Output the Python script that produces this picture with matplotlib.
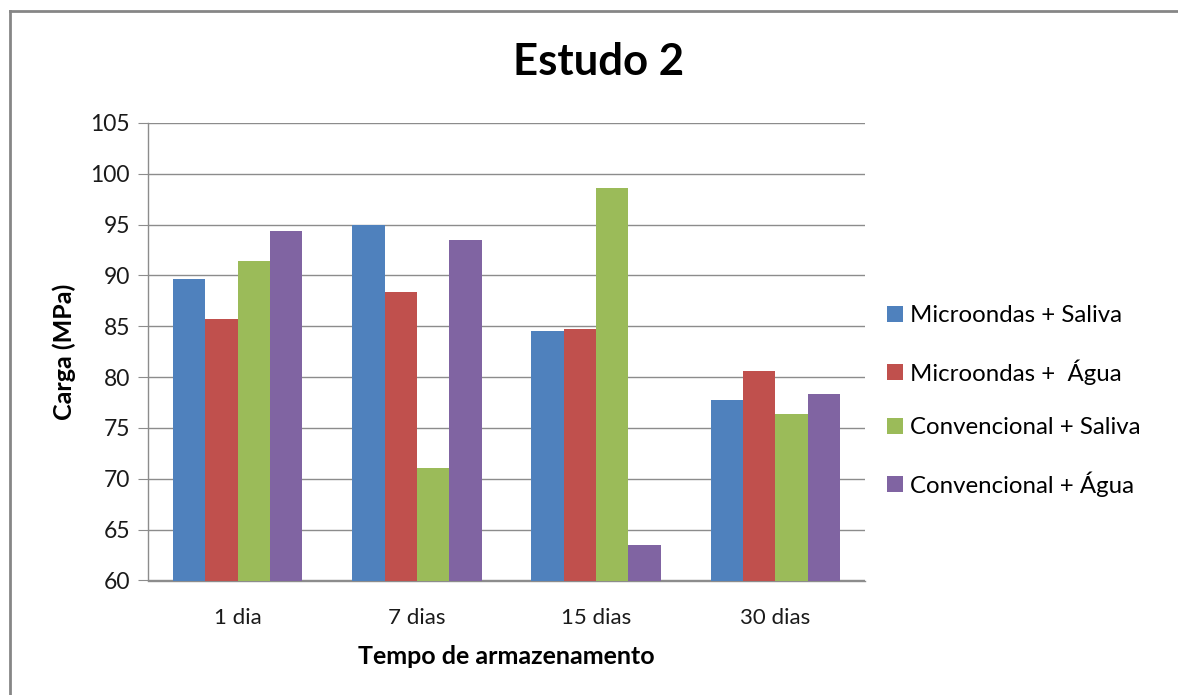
import matplotlib
matplotlib.use("Agg")
import matplotlib.pyplot as plt
from matplotlib.patches import Patch
from matplotlib.lines import Line2D
import numpy as np

plt.rcParams['font.family'] = ['Lato', 'DejaVu Sans']

categories = ["1 dia", "7 dias", "15 dias", "30 dias"]
series_names = ["Microondas + Saliva", "Microondas +  Água",
                "Convencional + Saliva", "Convencional + Água"]
micro_saliva = [89.7, 95.0, 84.5, 77.8]
micro_agua = [85.7, 88.4, 84.7, 80.6]
conv_saliva = [91.4, 71.1, 98.6, 76.4]
conv_agua = [94.4, 93.5, 63.5, 78.3]
y_ticks = [60, 65, 70, 75, 80, 85, 90, 95, 100, 105]

series = [micro_saliva, micro_agua, conv_saliva, conv_agua]
colors = ["#4F81BD", "#C0504D", "#9BBB59", "#8064A2"]

W, H, DPI = 1178, 695, 100
fig = plt.figure(figsize=(W / DPI, H / DPI), dpi=DPI)

# chart frame: top and left edges
frame_kw = dict(transform=None, color="#868686", linewidth=2.0)
fig.lines.append(Line2D([9.5, W + 5], [H - 10.5, H - 10.5], **frame_kw))
fig.lines.append(Line2D([9.5, 9.5], [-5, H - 10.5], **frame_kw))

ax = fig.add_axes([148 / W, 1 - 580.5 / H, (865 - 148) / W, (580.5 - 123) / H])

x = np.arange(len(categories))
bw = 0.1805
for i, (vals, col, name) in enumerate(zip(series, colors, series_names)):
    ax.bar(x + (i - 1.5) * bw, np.array(vals) - 60, bottom=60, width=bw,
           color=col, label=name, zorder=3)

ax.set_xlim(-0.5, len(categories) - 0.5)
ax.set_ylim(60, 105)
ax.set_yticks(y_ticks)
ax.set_xticks(x)
ax.set_xticklabels(categories)
ax.yaxis.grid(True, color="#8c8c8c", linewidth=1.0, zorder=0)
ax.set_axisbelow(True)

for s in ["top", "right"]:
    ax.spines[s].set_visible(False)
for s in ["left", "bottom"]:
    ax.spines[s].set_color("#8c8c8c")
    ax.spines[s].set_linewidth(1.0)

ax.tick_params(axis="y", length=7, color="#8c8c8c", labelsize=16.5, pad=6,
               labelcolor="#1a1a1a")
ax.tick_params(axis="x", length=0, labelsize=16, pad=20, labelcolor="#1a1a1a")

ax.set_xlabel("Tempo de armazenamento", fontsize=18, fontweight="bold",
              labelpad=12)
ax.set_ylabel("Carga (MPa)", fontsize=18, fontweight="bold", labelpad=10)

fig.text(599 / W, 1 - 62 / H, "Estudo 2", fontsize=31.5, fontweight="bold",
         ha="center", va="center")

handles = [Patch(facecolor=c) for c in colors]
ax.legend(handles, series_names, loc="center left",
          bbox_to_anchor=(887 / W, 1 - 401 / H), bbox_transform=fig.transFigure,
          frameon=False, fontsize=17.3, handlelength=0.66, handleheight=0.66,
          handletextpad=0.3, labelspacing=1.36, borderpad=0, borderaxespad=0)

fig.savefig("out.png", dpi=DPI)
